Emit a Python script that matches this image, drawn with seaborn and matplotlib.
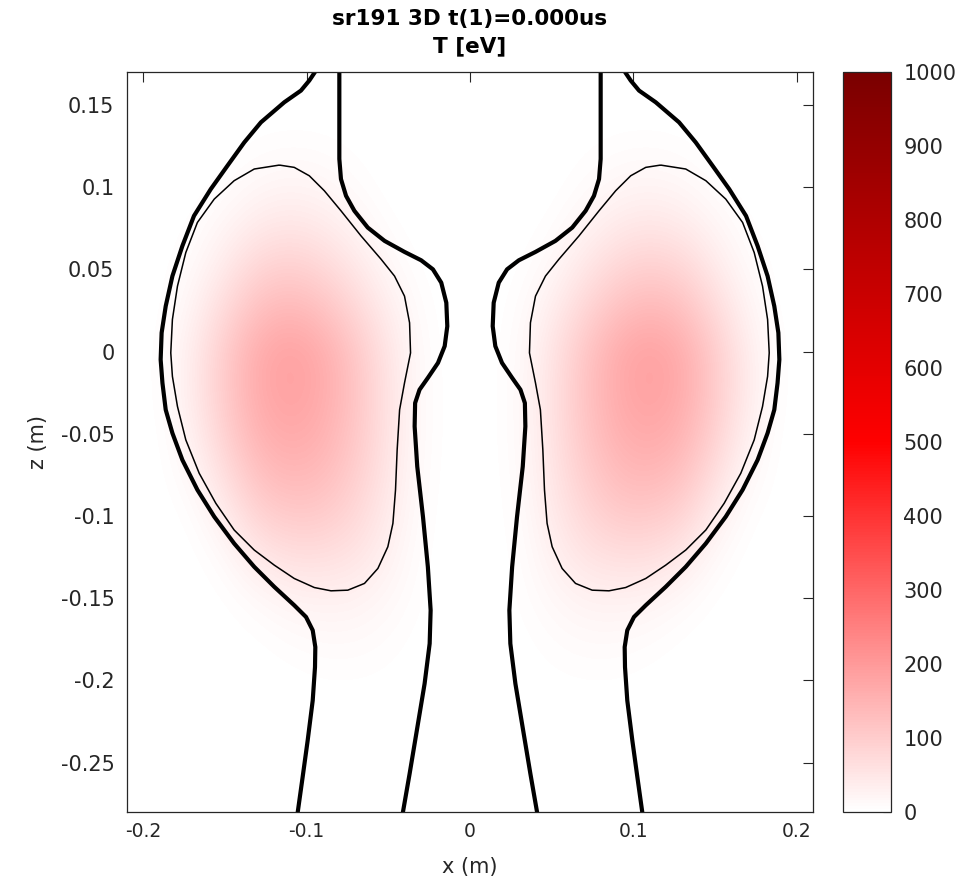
import numpy as np
import matplotlib
matplotlib.use('Agg')
import matplotlib.pyplot as plt
import seaborn as sns

# ---- temperature field, left half (right half is the mirror image) ----
# columns at x (m), rows at z (m), values in eV
x_left = [-0.21, -0.19, -0.17, -0.15, -0.13, -0.11, -0.09, -0.07, -0.05, -0.03, -0.01]
z_rows = [0.175, 0.15, 0.125, 0.10, 0.075, 0.05, 0.025, 0.0, -0.025, -0.05,
          -0.075, -0.10, -0.125, -0.15, -0.175, -0.20, -0.225, -0.25, -0.275, -0.30]
T_left = [
    [0, 0, 0,   0,   0,   0,   0,   0,  0,  0, 0],
    [0, 0, 0,   0,   0,   0,   0,   0,  0,  0, 0],
    [0, 0, 0,   0,   4,   6,   5,   2,  0,  0, 0],
    [0, 0, 0,   6,  18,  24,  19,   8,  0,  0, 0],
    [0, 0, 4,  22,  45,  54,  45,  24,  5,  0, 0],
    [0, 0, 12, 45,  85,  98,  82,  50, 17,  2, 0],
    [0, 0, 25, 75, 128, 145, 125,  82, 36,  6, 0],
    [0, 2, 38, 102, 165, 188, 165, 112, 52, 9, 0],
    [0, 2, 40, 105, 168, 188, 168, 118, 56, 10, 0],
    [0, 0, 30, 92, 152, 172, 156, 112, 55, 10, 0],
    [0, 0, 16, 66, 124, 144, 134,  98, 50,  8, 0],
    [0, 0, 4,  36,  88, 106, 104,  78, 40,  6, 0],
    [0, 0, 0,  12,  46,  64,  64,  54, 29,  4, 0],
    [0, 0, 0,   2,  14,  26,  30,  28, 16,  3, 0],
    [0, 0, 0,   0,   2,   8,  12,  12,  7,  1, 0],
    [0, 0, 0,   0,   0,   1,   3,   3,  2,  0, 0],
    [0, 0, 0,   0,   0,   0,   0,   0,  0,  0, 0],
    [0, 0, 0,   0,   0,   0,   0,   0,  0,  0, 0],
    [0, 0, 0,   0,   0,   0,   0,   0,  0,  0, 0],
    [0, 0, 0,   0,   0,   0,   0,   0,  0,  0, 0],
]

# ---- flux contours, left side (mirrored for the right side) ----
outer_x = [-0.0949, -0.0984, -0.1035, -0.1137, -0.1280, -0.1382, -0.1485, -0.1587,
           -0.1690, -0.1761, -0.1822, -0.1863, -0.1888, -0.1894, -0.1883, -0.1863,
           -0.1822, -0.1761, -0.1669, -0.1566, -0.1444, -0.1321, -0.1198, -0.1076,
           -0.1004, -0.0963, -0.0947, -0.0949, -0.0963, -0.0994, -0.1025, -0.1055]
outer_z = [0.1700, 0.1648, 0.1587, 0.1516, 0.1394, 0.1272, 0.1130, 0.0988,
           0.0825, 0.0642, 0.0459, 0.0276, 0.0114, -0.0049, -0.0191, -0.0354,
           -0.0496, -0.0659, -0.0841, -0.1004, -0.1167, -0.1309, -0.1431, -0.1543,
           -0.1614, -0.1695, -0.1797, -0.1919, -0.2122, -0.2366, -0.2590, -0.2803]

neck_x = [-0.0800, -0.0800, -0.0790, -0.0759, -0.0708, -0.0626, -0.0523, -0.0401,
          -0.0299, -0.0227, -0.0176, -0.0145, -0.0139, -0.0155, -0.0196, -0.0258,
          -0.0309, -0.0336, -0.0339, -0.0323, -0.0288, -0.0258, -0.0241, -0.0247,
          -0.0278, -0.0329, -0.0370, -0.0411]
neck_z = [0.1700, 0.1171, 0.1049, 0.0947, 0.0856, 0.0754, 0.0673, 0.0606,
          0.0555, 0.0500, 0.0419, 0.0297, 0.0154, 0.0033, -0.0069, -0.0160,
          -0.0232, -0.0313, -0.0455, -0.0699, -0.1004, -0.1309, -0.1573, -0.1776,
          -0.2020, -0.2325, -0.2569, -0.2803]

sep_x = [-0.1167, -0.1076, -0.0984, -0.0892, -0.0790, -0.0667, -0.0544, -0.0462,
         -0.0401, -0.0370, -0.0364, -0.0401, -0.0431, -0.0446, -0.0456, -0.0472,
         -0.0503, -0.0564, -0.0646, -0.0748, -0.0851, -0.0953, -0.1076, -0.1198,
         -0.1321, -0.1444, -0.1556, -0.1658, -0.1740, -0.1791, -0.1822, -0.1832,
         -0.1822, -0.1791, -0.1740, -0.1669, -0.1566, -0.1444, -0.1321, -0.1167]
sep_z = [0.1134, 0.1120, 0.1069, 0.0978, 0.0856, 0.0703, 0.0561, 0.0459,
         0.0337, 0.0175, -0.0008, -0.0191, -0.0354, -0.0598, -0.0841, -0.1045,
         -0.1187, -0.1319, -0.1410, -0.1451, -0.1455, -0.1435, -0.1380, -0.1299,
         -0.1207, -0.1085, -0.0923, -0.0740, -0.0537, -0.0334, -0.0151, -0.0008,
         0.0195, 0.0398, 0.0602, 0.0785, 0.0927, 0.1039, 0.1110, 0.1134]

x_ticks = [-0.2, -0.1, 0, 0.1, 0.2]
z_ticks = [0.15, 0.1, 0.05, 0, -0.05, -0.1, -0.15, -0.2, -0.25]
cbar_ticks = list(range(0, 1001, 100))
title = "sr191 3D t(1)=0.000us\nT [eV]"

sns.set_theme(style="white")
plt.rcParams['font.family'] = ['DejaVu Sans']
ink = '#262626'

T_half = np.array(T_left, dtype=float)
T_full = np.hstack([T_half, T_half[:, ::-1]])
x_nodes = np.array(x_left + [-v for v in reversed(x_left)])
z_nodes = np.array(z_rows)
dx = x_nodes[1] - x_nodes[0]
dz = z_nodes[0] - z_nodes[1]

# white -> red -> dark red, like the MATLAB map in the original
cmap = sns.blend_palette(["#ffffff", "#ff0000", "#7a0000"], as_cmap=True)

fig = plt.figure(figsize=(9.79, 8.83), dpi=100)
ax = fig.add_axes([127 / 979, 1 - 812 / 883, 686 / 979, 740 / 883])
im = ax.imshow(T_full, cmap=cmap, vmin=0, vmax=1000, origin='upper',
               interpolation='bicubic', aspect='auto',
               extent=(x_nodes[0] - dx / 2, x_nodes[-1] + dx / 2,
                       z_nodes[-1] - dz / 2, z_nodes[0] + dz / 2))

line_kw = dict(sort=False, estimator=None, color='black', legend=False, ax=ax,
               solid_joinstyle='round', solid_capstyle='butt')
for s in (1, -1):
    sns.lineplot(x=s * np.array(outer_x), y=outer_z, linewidth=3.0, **line_kw)
    sns.lineplot(x=s * np.array(neck_x), y=neck_z, linewidth=3.0, **line_kw)
    sns.lineplot(x=s * np.array(sep_x), y=sep_z, linewidth=1.1, **line_kw)

ax.set_xlim(-0.21, 0.21)
ax.set_ylim(-0.28, 0.17)
ax.set_xticks(x_ticks)
ax.set_xticklabels(['-0.2', '-0.1', '0', '0.1', '0.2'])
ax.set_yticks(z_ticks)
ax.set_yticklabels(['0.15', '0.1', '0.05', '0', '-0.05', '-0.1', '-0.15', '-0.2', '-0.25'])
ax.tick_params(direction='in', top=True, right=True, length=7, width=0.8,
               colors=ink, pad=7)
ax.tick_params(axis='x', labelsize=13.5)
ax.tick_params(axis='y', labelsize=15, pad=9)
for sp in ax.spines.values():
    sp.set_color(ink)
    sp.set_linewidth(0.9)
ax.set_xlabel("x (m)", fontsize=15, color=ink, labelpad=12)
ax.set_ylabel("z (m)", fontsize=15, color=ink, labelpad=9)
ax.set_title(title, fontsize=15.5, fontweight='bold', color='black', pad=14,
             linespacing=1.5)

cax = fig.add_axes([843 / 979, 1 - 812 / 883, 48 / 979, 740 / 883])
cb = fig.colorbar(im, cax=cax, ticks=cbar_ticks)
cb.outline.set_edgecolor(ink)
cb.outline.set_linewidth(0.9)
cax.tick_params(direction='in', length=6, width=0.8, labelsize=15, colors=ink, pad=9)

fig.savefig("out.png", dpi=100)
